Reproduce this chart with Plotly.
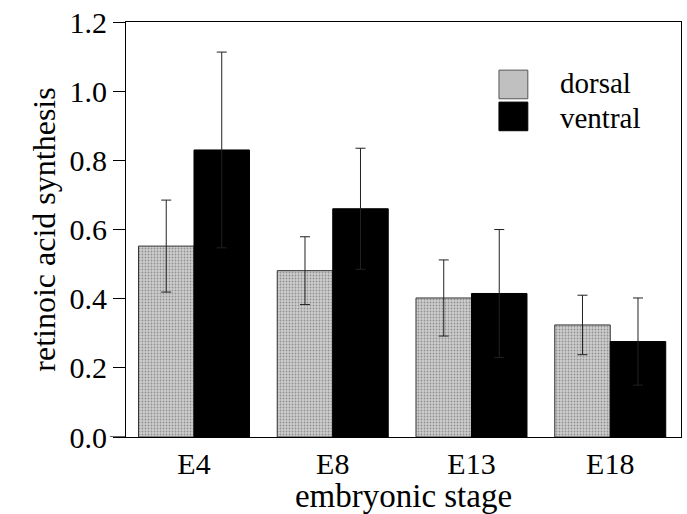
import plotly.graph_objects as go

stages = ["E4", "E8", "E13", "E18"]
dorsal = [0.552, 0.481, 0.402, 0.324]
dorsal_err = [0.133, 0.098, 0.110, 0.086]
ventral = [0.830, 0.660, 0.415, 0.276]
ventral_err = [0.283, 0.175, 0.185, 0.126]
y_ticks = [0.0, 0.2, 0.4, 0.6, 0.8, 1.0, 1.2]

FONT = "Liberation Serif"

fig = go.Figure()
fig.add_trace(go.Bar(
    name="dorsal", x=stages, y=dorsal,
    error_y=dict(type="data", array=dorsal_err, color="#222", thickness=1, width=5),
    marker=dict(color="#c0c0c0", line=dict(color="#333", width=1),
                pattern=dict(shape=".", fgcolor="#555", bgcolor="#cdcdcd", size=3, solidity=0.3)),
))
fig.add_trace(go.Bar(
    name="ventral", x=stages, y=ventral,
    error_y=dict(type="data", array=ventral_err, color="#222", thickness=1, width=5),
    marker=dict(color="#000", line=dict(color="#000", width=1)),
))

fig.update_layout(
    width=687, height=514,
    margin=dict(l=126, r=6, t=22, b=77),
    paper_bgcolor="white", plot_bgcolor="white",
    barmode="group", bargap=0.2, bargroupgap=0,
    showlegend=False,
    font=dict(family=FONT, color="black", size=30),
    xaxis=dict(
        range=[-0.49, 3.51], showline=True, linecolor="black", linewidth=1.2,
        mirror=True, ticks="",
        tickfont=dict(size=30, family=FONT, color="black"),
        title=dict(text="embryonic stage", font=dict(size=33, family=FONT, color="black"), standoff=0),
    ),
    yaxis=dict(
        range=[0, 1.2], tickvals=y_ticks, tickformat=".1f",
        showline=True, linecolor="black", linewidth=1.2, mirror=True,
        ticks="outside", ticklen=12, tickcolor="black", showgrid=False, zeroline=False,
        tickfont=dict(size=30, family=FONT, color="black"),
        title=dict(text="retinoic acid synthesis", font=dict(size=32, family=FONT, color="black"), standoff=4),
    ),
)

# extension of baseline to the left of the y axis
fig.add_shape(type="line", xref="paper", yref="y", x0=-0.029, x1=0, y0=0, y1=0,
              line=dict(color="black", width=1.2))

# custom legend
legend_items = [("dorsal", "#c0c0c0", "."), ("ventral", "#000", "")]
for i, (name, col, pat) in enumerate(legend_items):
    y_top = 0.884 - i * 0.077
    fig.add_shape(type="rect", xref="paper", yref="paper",
                  x0=0.672, x1=0.724, y0=y_top - 0.069, y1=y_top,
                  fillcolor=col, line=dict(color="#555" if pat else "#000", width=1))
    fig.add_annotation(xref="paper", yref="paper", x=0.778, y=y_top - 0.030 - i * 0.008,
                       text=name, showarrow=False, xanchor="left", yanchor="middle",
                       font=dict(size=29, family=FONT, color="black"))

fig.write_html("out.html")
